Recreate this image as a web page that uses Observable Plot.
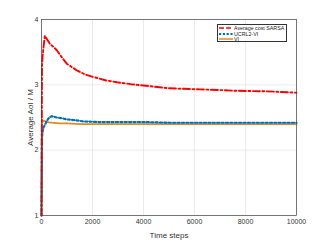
<!DOCTYPE html>
<html><head><meta charset="utf-8">
<script src="https://cdn.jsdelivr.net/npm/d3@7"></script>
<script src="https://cdn.jsdelivr.net/npm/@observablehq/plot@0.6"></script>
<style>
body{margin:0;background:#fff;font-family:"Liberation Sans",Arial,sans-serif;}
#wrap{position:relative;width:326px;height:242px;}
#legend{position:absolute;left:217px;top:24px;width:70px;height:18px;border:0.7px solid #333;background:#fff;font-size:5.3px;color:#222;padding:0.5px 0 0 0;box-sizing:border-box;white-space:nowrap;overflow:hidden;}
#legend .row{display:flex;align-items:center;height:5.5px;}
#legend svg{margin-left:1px;margin-right:1px;flex:none;}
</style></head><body>
<div id="wrap"><div id="chart"></div><div id="legend"></div></div>
<script>
const seriesNames = ["Average cost SARSA", "UCRL2-VI", "VI"];
const seriesColors = ["#ff0000", "#0072bd", "#e8891c"];
const sarsaT = [0, 20, 50, 100, 130, 170, 210, 280, 340, 470, 600, 800, 1000, 1200, 1390, 1700, 2040, 2500, 2960, 3500, 4000, 4920, 5500, 6230, 7000, 7540, 8850, 10000];
const sarsaV = [1, 3.3, 3.47, 3.65, 3.75, 3.73, 3.70, 3.66, 3.62, 3.58, 3.53, 3.42, 3.32, 3.27, 3.22, 3.16, 3.12, 3.07, 3.04, 3.01, 2.99, 2.95, 2.94, 2.93, 2.92, 2.91, 2.90, 2.88];
const ucrlT = [0, 20, 50, 80, 150, 210, 300, 400, 500, 600, 800, 1000, 1300, 1650, 2300, 3000, 4000, 5000, 6000, 7000, 8000, 9000, 10000];
const ucrlV = [1, 2.2, 2.3, 2.35, 2.40, 2.45, 2.50, 2.52, 2.51, 2.50, 2.49, 2.47, 2.46, 2.44, 2.43, 2.43, 2.43, 2.42, 2.42, 2.42, 2.42, 2.42, 2.42];
const viT = [0, 10, 20, 50, 100, 200, 400, 700, 1000, 1500, 2000, 3000, 5000, 7000, 10000];
const viV = [1, 2.3, 2.47, 2.44, 2.45, 2.43, 2.42, 2.41, 2.41, 2.40, 2.40, 2.40, 2.40, 2.40, 2.40];
const xTicks = [0, 2000, 4000, 6000, 8000, 10000];
const yTicks = [1, 2, 3, 4];
const dashes = ["7,2.5,2,2.5", "2.2,2.2", null];

const mk = (T, V) => T.map((t, i) => ({t, v: V[i]}));
const data = [mk(sarsaT, sarsaV), mk(ucrlT, ucrlV), mk(viT, viV)];

const chart = Plot.plot({
  width: 326, height: 242,
  marginLeft: 41, marginRight: 30, marginTop: 19, marginBottom: 27,
  style: {fontFamily: "Liberation Sans, Arial, sans-serif", fontSize: "7px", color: "#333", background: "#fff"},
  x: {domain: [0, 10000], ticks: xTicks, tickFormat: d => String(d), label: "Time steps", labelAnchor: "center", labelArrow: false, labelOffset: 22, tickSize: 0, tickPadding: 4},
  y: {domain: [1, 4], ticks: yTicks, tickFormat: d => String(d), label: "Average AoI / M", labelAnchor: "center", labelArrow: false, labelOffset: 14, tickSize: 0, tickPadding: 3},
  marks: [
    Plot.gridX(xTicks, {stroke: "#ddd", strokeOpacity: 1, strokeWidth: 0.6}),
    Plot.gridY(yTicks, {stroke: "#ddd", strokeOpacity: 1, strokeWidth: 0.6}),
    Plot.line(data[2], {x: "t", y: "v", stroke: seriesColors[2], strokeWidth: 1.8}),
    Plot.line(data[1], {x: "t", y: "v", stroke: seriesColors[1], strokeWidth: 2.2, strokeDasharray: dashes[1]}),
    Plot.line(data[0], {x: "t", y: "v", stroke: seriesColors[0], strokeWidth: 1.9, strokeDasharray: dashes[0]}),
    Plot.frame({stroke: "#444", strokeWidth: 0.7})
  ]
});
chart.querySelectorAll("[aria-label='x-axis label'] text, [aria-label='y-axis label'] text").forEach(t => t.style.fontSize = "8px");
document.getElementById("chart").appendChild(chart);

const legend = document.getElementById("legend");
seriesNames.forEach((name, i) => {
  const row = document.createElement("div");
  row.className = "row";
  row.innerHTML = `<svg width="14" height="4"><line x1="0" x2="14" y1="2" y2="2" stroke="${seriesColors[i]}" stroke-width="${i===1?2:1.5}" ${dashes[i] ? `stroke-dasharray="${i===0?'5,2':'2.2,1.6'}"` : ""}/></svg><span>${name}</span>`;
  legend.appendChild(row);
});
</script>
</body></html>
